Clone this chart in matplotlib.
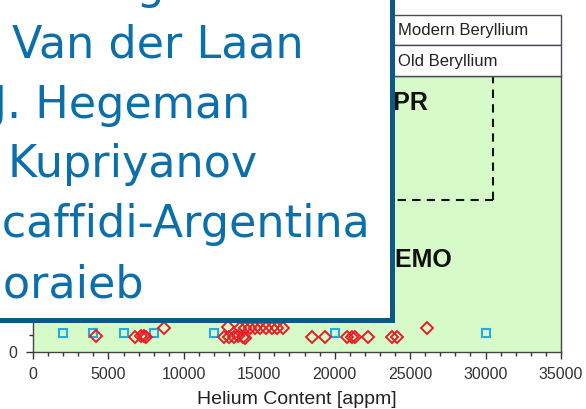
import matplotlib
matplotlib.use("Agg")
import matplotlib.pyplot as plt
from matplotlib.patches import Rectangle
from matplotlib.lines import Line2D
from matplotlib.ticker import MultipleLocator

plt.rcParams['font.family'] = ['Liberation Sans', 'DejaVu Sans']

# data
old_he = [2000, 4000, 6000, 8000, 12000, 20000, 30000]
old_y = [5.5, 5.5, 5.5, 5.5, 5.5, 5.5, 5.5]

modern_he = [4200, 6750, 7150, 7350, 7500, 8700,
             12650, 13000, 13300, 13600, 13900, 14050,
             12900, 13700, 14050, 14400, 14700, 15050, 15450, 15850, 16200, 16600,
             18500, 19350, 20800, 21150, 21350, 22200, 23800, 24100, 26100]
modern_y = [4.6, 4.3, 4.6, 4.6, 4.3, 7.0,
            4.4, 4.4, 4.4, 4.6, 4.3, 4.1,
            7.2, 7.0, 7.0, 7.0, 7.0, 7.0, 7.0, 7.0, 7.0, 7.0,
            4.3, 4.3, 4.3, 4.3, 4.3, 4.3, 4.3, 4.3, 7.0]

region_he = 30500     # dashed box corner
region_y = 44
region_labels = ["EXPR", "DEMO"]
region_label_pos = [(26200, 70.0), (27800, 24.6)]

legend_labels = ["Modern Beryllium", "Old Beryllium"]
authors = ["A. Möslang", "J.G. Van der Laan", "J.B.J. Hegeman",
           "I.B. Kupriyanov", "M.Scaffidi-Argentina", "Y. Goraieb"]

W, H = 586, 409
fig = plt.figure(figsize=(W / 100, H / 100), dpi=100)
fig.patch.set_facecolor('white')

def fx(px):
    return px / W

def fy(py):
    return 1 - py / H

ax = fig.add_axes([fx(33), fy(352), fx(561) - fx(33), fy(76) - fy(352)])
ax.set_facecolor('#d6fbc9')

ax.plot(old_he, old_y, linestyle='none', marker='s', ms=6.3, mfc='none',
        mec='#25a9df', mew=1.5, zorder=3)
ax.plot(modern_he, modern_y, linestyle='none', marker='D', ms=6.5, mfc='none',
        mec='#ea1c26', mew=1.4, zorder=4)

# dashed region boundary
ax.plot([0, region_he], [region_y, region_y], color='#111', lw=1.5, ls=(0, (4, 3)))
ax.plot([region_he, region_he], [region_y, 80], color='#111', lw=1.5, ls=(0, (4, 3)))
for lab, (xx, yy) in zip(region_labels, region_label_pos):
    ax.text(xx, yy, lab, ha='right', va='baseline', fontsize=18, fontweight='bold',
            color='#111')

ax.set_xlim(0, 35000)
ax.set_ylim(0, 80)
ax.xaxis.set_major_locator(MultipleLocator(5000))
ax.xaxis.set_minor_locator(MultipleLocator(1000))
ax.yaxis.set_major_locator(MultipleLocator(20))
ax.yaxis.set_minor_locator(MultipleLocator(5))
ax.tick_params(which='major', direction='out', length=5, width=1, color='#333',
               labelsize=11.5, labelcolor='#333', pad=6)
ax.tick_params(which='minor', direction='out', length=3, width=1, color='#333')
for s in ax.spines.values():
    s.set_color('#444')
    s.set_linewidth(1)
ax.set_xlabel("Helium Content [appm]", fontsize=14, color='#222', labelpad=6)
ax.set_ylabel("Damage [dpa]", fontsize=14, color='#222')

# legend drawn as two table rows above the plot
rows = [(15, 45), (45, 76)]
for lab, (top, bot), mk, col in zip(legend_labels, rows, ['D', 's'], ['#ea1c26', '#25a9df']):
    fig.add_artist(Rectangle((fx(300), fy(bot)), fx(561) - fx(300), fy(top) - fy(bot),
                             transform=fig.transFigure, facecolor='white',
                             edgecolor='#4a4a58', lw=1, zorder=5))
    fig.add_artist(Line2D([fx(360)], [fy((top + bot) / 2)], transform=fig.transFigure,
                          marker=mk, ms=6, mfc='none', mec=col, mew=1.3, zorder=6))
    fig.text(fx(398), fy((top + bot) / 2 + 1), lab, ha='left', va='center',
             fontsize=12, color='#222', zorder=6)

# overlay box with author names
fig.add_artist(Rectangle((fx(-60), fy(319.5)), fx(391.5) - fx(-60), fy(-60) - fy(319.5),
                         transform=fig.transFigure, facecolor='white',
                         edgecolor='#0b5a86', lw=3.6, zorder=20))
baselines = [-1, 58, 118, 177, 237, 297]
for name, b in zip(authors, baselines):
    fig.text(fx(-78), fy(b), name, ha='left', va='baseline', fontsize=32,
             family=['DejaVu Sans'], color='#0b6fac', zorder=21)

fig.savefig("out.png", dpi=100)
